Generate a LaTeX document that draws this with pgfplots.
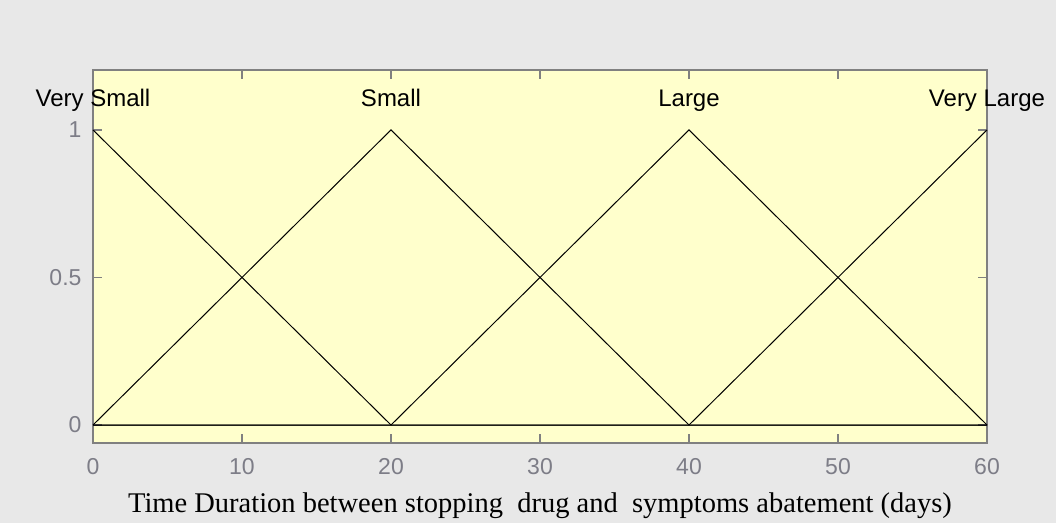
\documentclass[border=0pt]{standalone}
\usepackage{fontspec}
\setmainfont{Liberation Sans}
\newfontfamily\seriffont{Liberation Serif}
\usepackage{pgfplots}
\pgfplotsset{compat=1.18}
\definecolor{bg}{RGB}{232,232,232}
\definecolor{pane}{RGB}{255,255,204}
\definecolor{framec}{RGB}{128,128,128}
\definecolor{tickc}{RGB}{125,125,135}

\begin{document}
\begin{tikzpicture}[x=1pt,y=1pt]
\fill[bg] (0,0) rectangle (1056,523);
\begin{axis}[
  at={(93pt,80pt)}, anchor=south west,
  scale only axis, width=894pt, height=373pt,
  xmin=0, xmax=60, ymin=-0.061, ymax=1.203,
  xtick={0,10,...,60}, ytick={0,0.5,1},
  tick align=inside, major tick length=9pt,
  tick style={framec, line width=1.2pt},
  axis line style={framec, line width=1.4pt},
  axis background/.style={fill=pane},
  ticklabel style={font=\fontsize{23}{26}\selectfont, text=tickc},
  /pgf/number format/assume math mode=true,
  xticklabel style={yshift=-12pt},
  yticklabel style={xshift=-8pt},
  xlabel={Time Duration between stopping\ \ drug and\ \ symptoms abatement (days)},
  xlabel style={font=\seriffont\fontsize{28.5}{32}\selectfont, text=black,
    at={(axis description cs:0.5,0)}, anchor=base, yshift=-69pt},
  clip=false,
]
% Very Small
\addplot[black, line width=1pt] coordinates {(0,1) (20,0) (60,0)};
% Small
\addplot[black, line width=1pt] coordinates {(0,0) (20,1) (40,0) (60,0)};
% Large
\addplot[black, line width=1pt] coordinates {(0,0) (20,0) (40,1) (60,0)};
% Very Large
\addplot[black, line width=1pt] coordinates {(0,0) (40,0) (60,1)};
\node[anchor=base, font=\fontsize{24}{28}\selectfont] at (axis cs:0,1.078) {Very Small};
\node[anchor=base, font=\fontsize{24}{28}\selectfont] at (axis cs:20,1.078) {Small};
\node[anchor=base, font=\fontsize{24}{28}\selectfont] at (axis cs:40,1.078) {Large};
\node[anchor=base, font=\fontsize{24}{28}\selectfont] at (axis cs:60,1.078) {Very Large};
\end{axis}
\end{tikzpicture}
\end{document}
